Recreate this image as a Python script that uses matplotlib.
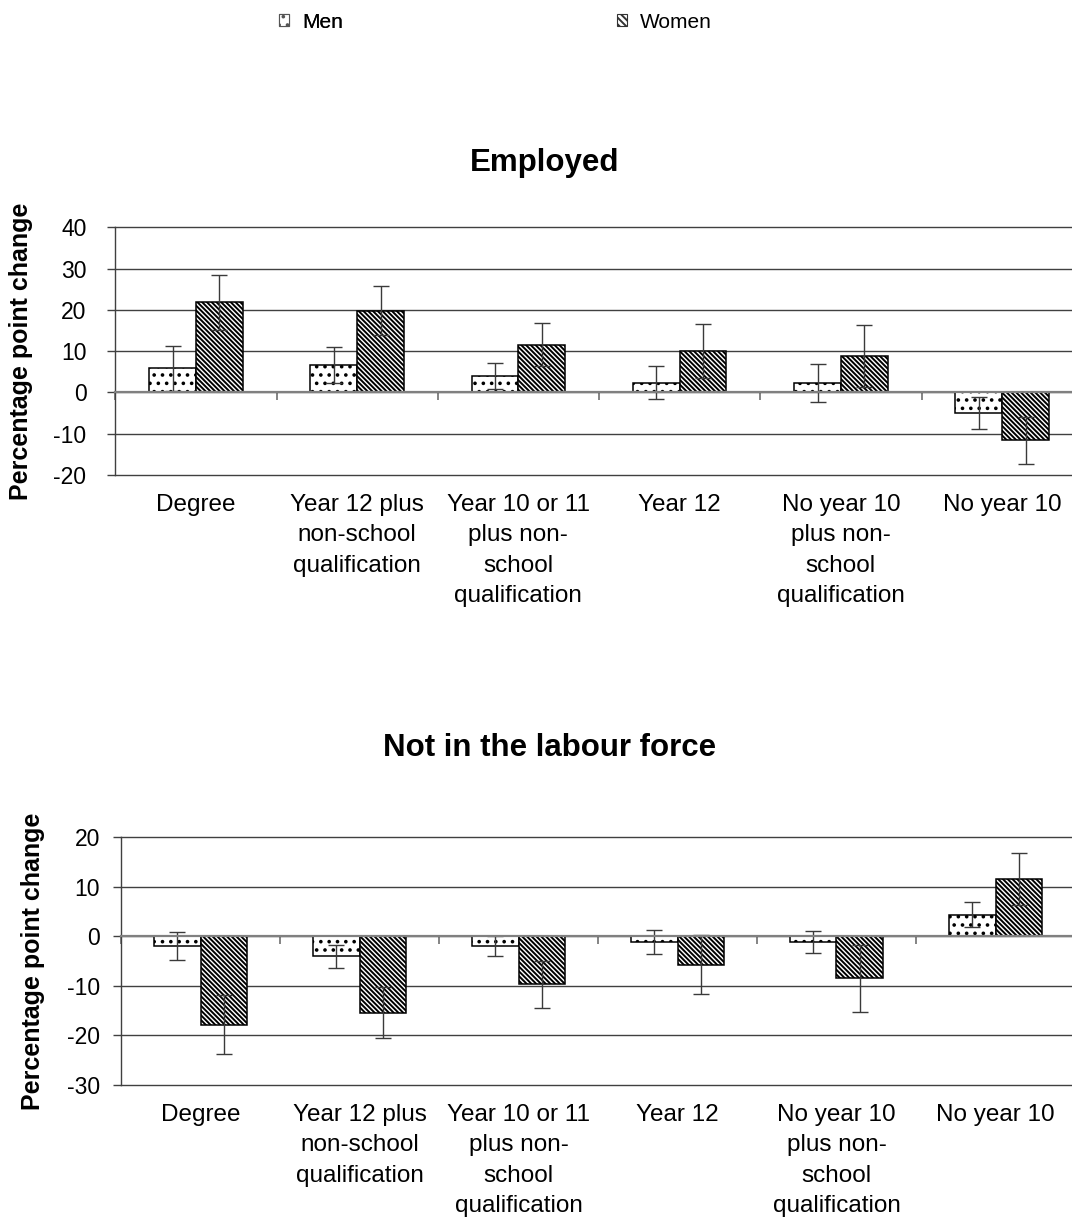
import matplotlib
matplotlib.use("Agg")
import matplotlib.pyplot as plt
from matplotlib.patches import Patch
import numpy as np

plt.rcParams['font.family'] = ['Liberation Sans', 'DejaVu Sans']
plt.rcParams['hatch.linewidth'] = 1.4
plt.rcParams['hatch.color'] = 'black'

categories = ["Degree",
              "Year 12 plus\nnon-school\nqualification",
              "Year 10 or 11\nplus non-\nschool\nqualification",
              "Year 12",
              "No year 10\nplus non-\nschool\nqualification",
              "No year 10"]
series_names = ["Men", "Women"]

emp_men = [5.8, 6.7, 4.0, 2.4, 2.4, -4.9]
emp_men_err = [5.4, 4.4, 3.2, 4.1, 4.6, 3.9]
emp_women = [21.8, 19.8, 11.6, 10.1, 8.8, -11.6]
emp_women_err = [6.7, 6.0, 5.3, 6.5, 7.6, 5.7]

nilf_men = [-2.0, -4.0, -2.0, -1.2, -1.2, 4.4]
nilf_men_err = [2.8, 2.3, 2.0, 2.4, 2.2, 2.6]
nilf_women = [-17.8, -15.4, -9.7, -5.7, -8.5, 11.6]
nilf_women_err = [6.0, 5.2, 4.8, 6.0, 6.8, 5.2]

emp_yticks = [-20, -10, 0, 10, 20, 30, 40]
nilf_yticks = [-30, -20, -10, 0, 10, 20]

W, H = 1072, 1231
fig = plt.figure(figsize=(W / 100, H / 100), dpi=100)

MEN_HATCH = '..'
WOMEN_HATCH = '\\' * 7
men_style = dict(facecolor='white', edgecolor='black', hatch=MEN_HATCH, linewidth=1.1)
women_style = dict(facecolor='white', edgecolor='black', hatch=WOMEN_HATCH, linewidth=1.1)
bw = 0.29


def draw(ax, men, men_err, women, women_err, yticks, tick_pad, ylab_x):
    x = np.arange(len(categories))
    ax.bar(x - bw / 2, men, bw, zorder=3, **men_style)
    ax.bar(x + bw / 2, women, bw, zorder=3, **women_style)
    ax.errorbar(x - bw / 2, men, yerr=men_err, fmt='none', ecolor='#3a3a3a',
                elinewidth=1.0, capsize=5.5, capthick=1.0, zorder=4)
    ax.errorbar(x + bw / 2, women, yerr=women_err, fmt='none', ecolor='#3a3a3a',
                elinewidth=1.0, capsize=5.5, capthick=1.0, zorder=4)
    ax.set_xlim(-0.5, len(categories) - 0.5)
    ax.set_ylim(yticks[0], yticks[-1])
    ax.set_yticks(yticks)
    ax.set_yticklabels([str(t) for t in yticks], fontsize=16.5)
    ax.tick_params(axis='y', length=5.8, width=1, color='#404040', pad=tick_pad)
    ax.yaxis.grid(True, color='#404040', linewidth=1.0, zorder=0)
    for gl in ax.get_ygridlines():
        gl.set_clip_on(False)
    ax.set_axisbelow(True)
    for s in ['top', 'right']:
        ax.spines[s].set_visible(False)
    ax.spines['left'].set_color('#404040')
    ax.spines['left'].set_linewidth(1.0)
    ax.spines['bottom'].set_position(('data', 0))
    ax.spines['bottom'].set_color('#808080')
    ax.spines['bottom'].set_linewidth(1.6)
    ax.spines['bottom'].set_zorder(5)
    ax.set_xticks(np.arange(len(categories) + 1) - 0.5)
    ax.set_xticklabels([])
    ax.tick_params(axis='x', length=5.5, width=1.2, color='#707070', direction='out')
    sec = ax.secondary_xaxis('bottom')
    sec.set_xticks(np.arange(len(categories)))
    sec.set_xticklabels(categories, fontsize=17.5, linespacing=1.5)
    sec.tick_params(length=0, pad=13.5)
    sec.spines['bottom'].set_visible(False)
    ax.set_ylabel("Percentage point change", fontsize=18, fontweight='bold')
    ax.yaxis.set_label_coords(ylab_x, 0.5)
    return ax


ax1 = fig.add_axes([115.3 / W, 1 - 475 / H, 967.5 / W, (475 - 227.3) / H])
draw(ax1, emp_men, emp_men_err, emp_women, emp_women_err, emp_yticks, 15, -0.085)
fig.text(545 / W, 1 - 171 / H, "Employed", fontsize=22.5, fontweight='bold',
         ha='center', va='baseline')

ax2 = fig.add_axes([121 / W, 1 - 1085 / H, 954 / W, (1085 - 837.3) / H])
draw(ax2, nilf_men, nilf_men_err, nilf_women, nilf_women_err, nilf_yticks, 9.4, -0.080)
fig.text(550 / W, 1 - 756 / H, "Not in the labour force", fontsize=22.5,
         fontweight='bold', ha='center', va='baseline')

# legend
leg_kw = dict(loc='center left', frameon=False, borderpad=0, borderaxespad=0,
              handlelength=0.5, handleheight=0.5, handletextpad=0.6, fontsize=15)
h_men = Patch(facecolor='white', edgecolor='#555555', hatch='..', linewidth=0.8)
h_women = Patch(facecolor='white', edgecolor='#333333', hatch='\\' * 5, linewidth=0.8)
leg1 = fig.legend([h_men], [series_names[0]], bbox_to_anchor=(279 / W, 1 - 22 / H), **leg_kw)
fig.add_artist(leg1)
fig.legend([h_women], [series_names[1]], bbox_to_anchor=(617 / W, 1 - 22 / H), **leg_kw)

fig.savefig("out.png", dpi=100)
